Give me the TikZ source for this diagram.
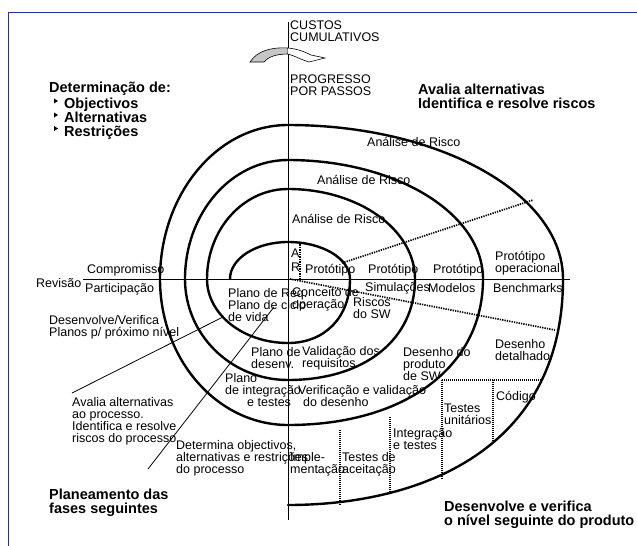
\documentclass[tikz,border=0pt]{standalone}
\usepackage{fontspec}
\setmainfont{Liberation Sans}
\usetikzlibrary{positioning}
\definecolor{frameblue}{RGB}{35,45,175}
\tikzset{
  txt/.style={anchor=west, inner sep=0pt, align=left, font=\fontsize{12.5}{12}\selectfont},
  bold/.style={anchor=west, inner sep=0pt, align=left, font=\bfseries\fontsize{14.5}{14}\selectfont},
  spiral/.style={line width=2.4pt, line cap=round},
  axis/.style={line width=0.8pt},
  dots/.style={line width=1.7pt, dash pattern=on 1.3pt off 1.1pt},
  finedots/.style={line width=1.2pt, dash pattern=on 1pt off 1pt},
}
\begin{document}
\begin{tikzpicture}[x=1pt,y=-1pt]
    \useasboundingbox (0,0) rectangle (637,546);

    % frame
    \draw[frameblue, line width=1pt] (8,546) -- (8,12) -- (637,12);

    % axes
    \draw[axis] (288,22) -- (288,520);
    \draw[axis] (83,279) -- (570,279);

    % curved arrow at the top
    \draw[fill=gray!45, line width=0.6pt] (250,62) .. controls (257,51) and (271,47) .. (288,48)
        -- (288,54) .. controls (276,54) and (268,57) .. (264,62) -- cycle;
    \draw[fill=white, line width=0.6pt] (288,48) .. controls (298,49) and (305,52) .. (311,55)
        -- (325,58) -- (309,62) .. controls (302,60) and (295,56) .. (288,54);

    % the spiral
    \draw[spiral] (230,279)
        arc[start angle=180, end angle=270, x radius=58, y radius=37]
        arc[start angle=270, end angle=360, x radius=62, y radius=37]
        .. controls (350,317) and (325,343) .. (288,343)
        arc[start angle=90, end angle=180, x radius=81, y radius=64]
        arc[start angle=180, end angle=270, x radius=81, y radius=90]
        arc[start angle=270, end angle=360, x radius=127, y radius=90]
        .. controls (415,340) and (364,380) .. (288,380)
        arc[start angle=90, end angle=180, x radius=103, y radius=101]
        arc[start angle=180, end angle=270, x radius=103, y radius=119]
        arc[start angle=270, end angle=360, x radius=195, y radius=119]
        .. controls (483,367) and (405,425) .. (288,425)
        arc[start angle=90, end angle=180, x radius=128, y radius=146]
        arc[start angle=180, end angle=270, x radius=128, y radius=154]
        arc[start angle=270, end angle=360, x radius=275, y radius=154]
        .. controls (563,450) and (420,505) .. (288,505);

    % dotted sectors
    \draw[dots] (300,242) -- (300,279);
    \draw[dots] (342,263) -- (533,200);
    \draw[dots] (290,279) -- (555,330);
    \draw[finedots] (442,380) -- (542,380);
    \draw[finedots] (442,380) -- (442,480);
    \draw[finedots] (493,380) -- (493,443);
    \draw[finedots] (390,417) -- (390,492);
    \draw[finedots] (340,430) -- (340,505);

    % axis labels
    \node[txt] (custos) at (290,31) {CUSTOS\\CUMULATIVOS};
    \node[txt] (progresso) at (290,85) {PROGRESSO\\POR PASSOS};

    % quadrant titles
    \node[bold] (determ) at (49,89) {Determinação de:};
    \node[bold, anchor=base west] (objectivos) at (64,108.5) {Objectivos};
    \node[bold, anchor=base west] (alternativas) at (64,122.5) {Alternativas};
    \node[bold, anchor=base west] (restricoes) at (64,136) {Restrições};
    \foreach \y in {101,115,128.5}
        \fill (54,\y-2.5) -- (58,\y) -- (54,\y+2.5) -- cycle;
    \node[bold] (avaliariscos) at (418,96) {Avalia alternativas\\Identifica e resolve riscos};
    \node[bold] (planeamento) at (49,503) {Planeamento das\\fases seguintes};
    \node[bold] (desverif) at (444,515) {Desenvolve e verifica\\o nível seguinte do produto};

    % risk analysis
    \node[txt] (risco3) at (367,142) {Análise de Risco};
    \node[txt] (risco2) at (317,180) {Análise de Risco};
    \node[txt] (risco1) at (292,219) {Análise de Risco};
    \node[txt, font=\fontsize{12.5}{14}\selectfont] (ar) at (291,260) {A\\R};

    % prototypes
    \node[txt] (prot1) at (305,270) {Protótipo};
    \node[txt] (prot2) at (368,270) {Protótipo};
    \node[txt] (prot3) at (433,270) {Protótipo};
    \node[txt] (protop) at (495,263) {Protótipo\\operacional};
    \node[txt] (simul) at (365,288) {Simulações};
    \node[txt] (modelos) at (428,288) {Modelos};
    \node[txt] (bench) at (493,288) {Benchmarks};

    % left side
    \node[txt] (revisao) at (36,283) {Revisão};
    \node[txt] (compromisso) at (87,270) {Compromisso};
    \node[txt] (participacao) at (85,289) {Participação};
    \node[txt] (desplanos) at (49,327) {Desenvolve/Verifica\\Planos p/ próximo nível};
    \node[txt] (avaliaproc) at (72,421) {Avalia alternativas\\ao processo.\\Identifica e resolve\\riscos do processo};
    \node[txt] (determina) at (176,458) {Determina objectivos,\\alternativas e restrições\\do processo};

    % inner labels
    \node[txt] (planoreq) at (228,305) {Plano de Req.\\Plano de ciclo\\de vida};
    \node[txt] (conceito) at (292,299) {Conceito de\\operação};
    \node[txt] (riscosw) at (353,308) {Riscos\\do SW};
    \node[txt] (planodes) at (251,358) {Plano de\\desenv.};
    \node[txt] (validacao) at (302,358) {Validação dos\\requisitos};
    \node[txt] (desprod) at (403,364) {Desenho do\\produto\\de SW};
    \node[txt] (desdet) at (495,350) {Desenho\\detalhado};
    \node[txt] (planoint) at (225,390) {Plano\\de integração\\\hspace*{22pt}e testes};
    \node[txt] (verif) at (298,396) {Verificação e validação\\\hspace*{5pt}do desenho};
    \node[txt] (imple) at (290,464) {Imple-\\mentação};
    \node[txt] (testac) at (342,464) {Testes de\\aceitação};
    \node[txt] (integ) at (393,439) {Integração\\e testes};
    \node[txt] (testun) at (444,414) {Testes\\unitários};
    \node[txt] (codigo) at (496,397) {Código};

    % pointer lines
    \coordinate (avl) at (72,393);
    \coordinate (avr) at (223,317);
    \coordinate (dtl) at (148,469);
    \coordinate (dtr) at (274,307);
    \draw[axis] (avl) -- (avr);
    \draw[axis] (dtl) -- (dtr);

\end{tikzpicture}
\end{document}
